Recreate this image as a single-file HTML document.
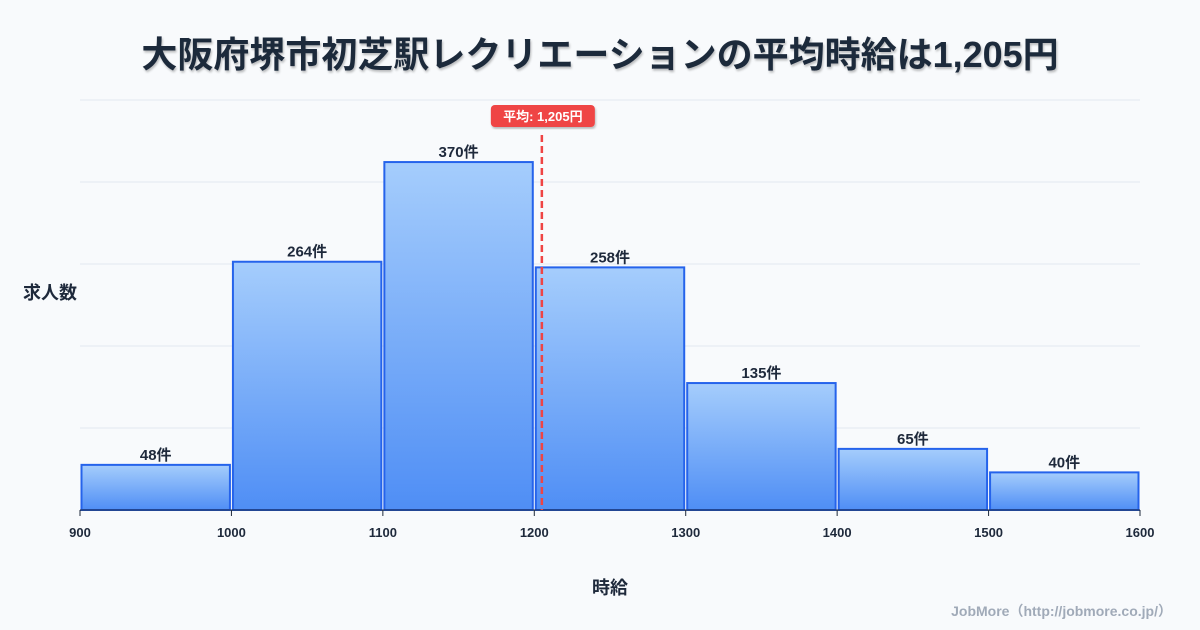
<!DOCTYPE html>
<html><head><meta charset="utf-8"><style>
body{margin:0;background:#f8fafc;}
svg{display:block;font-family:"Liberation Sans","Noto Sans CJK JP",sans-serif;}
</style></head><body>
<svg id="c" width="1200" height="630" viewBox="0 0 1200 630">
<defs><linearGradient id="g" x1="0" y1="0" x2="0" y2="1"><stop offset="0" stop-color="#a5cdfc"/><stop offset="1" stop-color="#4f8ef5"/></linearGradient>
<filter id="sh"><feDropShadow dx="1" dy="2" stdDeviation="1" flood-color="#000" flood-opacity="0.25"/></filter></defs>
<rect width="1200" height="630" fill="#f8fafc"/>
<text x="600" y="67" text-anchor="middle" font-size="36" font-weight="bold" fill="#1e293b" filter="url(#sh)">大阪府堺市初芝駅レクリエーションの平均時給は1,205円</text>
<g id="grid"></g><g id="bars"></g><g id="xt"></g>
<text x="50" y="299" text-anchor="middle" font-size="18" font-weight="bold" fill="#1e293b">求人数</text>
<text x="610" y="594" text-anchor="middle" font-size="18" font-weight="bold" fill="#1e293b">時給</text>
<text x="1172" y="616" text-anchor="end" font-size="14" font-weight="bold" fill="#a0aab8">JobMore（http://jobmore.co.jp/）</text>
<g id="mean"></g>
</svg>
<script>
const binStarts=[900,1000,1100,1200,1300,1400,1500];
const counts=[48,264,370,258,135,65,40];
const xTicks=[900,1000,1100,1200,1300,1400,1500,1600];
const meanValue=1205;
const yMax=436;
const ns="http://www.w3.org/2000/svg";
const X=v=>80+(v-900)/700*1060, Y=v=>510-v/yMax*410;
function mk(t,a,p,txt){const e=document.createElementNS(ns,t);for(const k in a)e.setAttribute(k,a[k]);if(txt!==undefined)e.textContent=txt;p.appendChild(e);return e;}
const grid=document.getElementById('grid');
for(let i=0;i<=5;i++){const y=510-i*82;const l=mk('line',{x1:80,x2:1140,y1:y,y2:y,stroke:'#e2e8f0','stroke-width':1},grid);

}
const bars=document.getElementById('bars');
binStarts.forEach((b,i)=>{const x0=X(b)+1.5,x1=X(b+100)-1.5,y=Y(counts[i]);
const r=mk('rect',{x:x0,y:y,width:x1-x0,height:510-y,fill:'url(#g)',stroke:'#2563eb','stroke-width':2},bars);


const t=mk('text',{x:(x0+x1)/2,y:y-5,'text-anchor':'middle','font-size':15,'font-weight':'bold',fill:'#1e293b'},bars,counts[i]+'件');

});
mk('line',{x1:80,x2:1140,y1:510,y2:510,stroke:'#1e293b','stroke-width':1},bars);
const xt=document.getElementById('xt');
xTicks.forEach(v=>{mk('line',{x1:X(v),x2:X(v),y1:510,y2:516,stroke:'#1e293b'},xt);
const t=mk('text',{x:X(v),y:537,'text-anchor':'middle','font-size':13,'font-weight':'bold',fill:'#1e293b'},xt,v);

});
const mg=document.getElementById('mean');const mx=X(meanValue);
const ml=mk('line',{x1:mx,x2:mx,y1:135,y2:510,stroke:'#ef4444','stroke-width':2.5,'stroke-dasharray':'7,4'},mg);


const mb=mk('rect',{x:mx-51,y:105,width:104,height:22,rx:4,fill:'#ef4444',filter:'url(#sh)'},mg);


const mt=mk('text',{x:mx+1,y:121,'text-anchor':'middle','font-size':13,'font-weight':'bold',fill:'#fff'},mg,'平均: 1,205円');


</script>
</body></html>
